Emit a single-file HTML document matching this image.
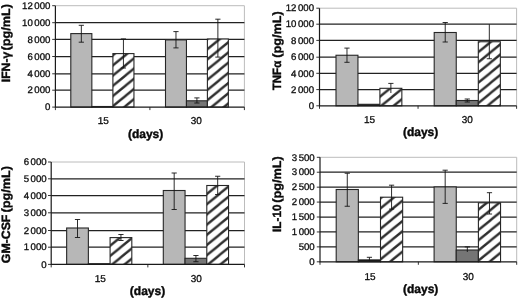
<!DOCTYPE html>
<html><head><meta charset="utf-8"><title>Cytokine charts</title>
<style>
html,body{margin:0;padding:0;background:#fff;}
body{width:520px;height:300px;overflow:hidden;}
svg{display:block;text-rendering:geometricPrecision;font-family:"Liberation Sans",Arial,sans-serif;}
.yl{font-size:9.65px;fill:#0c0c0c;stroke:#0c0c0c;stroke-width:0.3px;}
.xl{font-size:10px;fill:#0c0c0c;stroke:#0c0c0c;stroke-width:0.3px;}
.ti{font-size:12px;font-weight:bold;fill:#0a0a0a;stroke:#0a0a0a;stroke-width:0.4px;}
</style></head><body>
<svg width="520" height="300" viewBox="0 0 520 300">
<defs>
<pattern id="h10" patternUnits="userSpaceOnUse" width="12.44" height="10.2" patternTransform="translate(113.4 65)"><rect width="12.44" height="10.2" fill="#fff"/><path d="M-12.44 20.4L24.88 -10.2M-12.44 10.2L12.44 -10.2M0 20.4L24.88 0" stroke="#2e2e2e" stroke-width="2.35" fill="none"/></pattern>
<pattern id="h11" patternUnits="userSpaceOnUse" width="12.44" height="10.2" patternTransform="translate(206.9 49.6)"><rect width="12.44" height="10.2" fill="#fff"/><path d="M-12.44 20.4L24.88 -10.2M-12.44 10.2L12.44 -10.2M0 20.4L24.88 0" stroke="#2e2e2e" stroke-width="2.35" fill="none"/></pattern>
<pattern id="h20" patternUnits="userSpaceOnUse" width="12.44" height="10.2" patternTransform="translate(392.1 96.95)"><rect width="12.44" height="10.2" fill="#fff"/><path d="M-12.44 20.4L24.88 -10.2M-12.44 10.2L12.44 -10.2M0 20.4L24.88 0" stroke="#2e2e2e" stroke-width="2.35" fill="none"/></pattern>
<pattern id="h21" patternUnits="userSpaceOnUse" width="12.44" height="10.2" patternTransform="translate(478 52.4)"><rect width="12.44" height="10.2" fill="#fff"/><path d="M-12.44 20.4L24.88 -10.2M-12.44 10.2L12.44 -10.2M0 20.4L24.88 0" stroke="#2e2e2e" stroke-width="2.35" fill="none"/></pattern>
<pattern id="h30" patternUnits="userSpaceOnUse" width="12.44" height="10.2" patternTransform="translate(120.3 247.6)"><rect width="12.44" height="10.2" fill="#fff"/><path d="M-12.44 20.4L24.88 -10.2M-12.44 10.2L12.44 -10.2M0 20.4L24.88 0" stroke="#2e2e2e" stroke-width="2.35" fill="none"/></pattern>
<pattern id="h31" patternUnits="userSpaceOnUse" width="12.44" height="10.2" patternTransform="translate(206.9 194)"><rect width="12.44" height="10.2" fill="#fff"/><path d="M-12.44 20.4L24.88 -10.2M-12.44 10.2L12.44 -10.2M0 20.4L24.88 0" stroke="#2e2e2e" stroke-width="2.35" fill="none"/></pattern>
<pattern id="h40" patternUnits="userSpaceOnUse" width="12.44" height="10.2" patternTransform="translate(379.8 209)"><rect width="12.44" height="10.2" fill="#fff"/><path d="M-12.44 20.4L24.88 -10.2M-12.44 10.2L12.44 -10.2M0 20.4L24.88 0" stroke="#2e2e2e" stroke-width="2.35" fill="none"/></pattern>
<pattern id="h41" patternUnits="userSpaceOnUse" width="12.44" height="10.2" patternTransform="translate(478.3 209.8)"><rect width="12.44" height="10.2" fill="#fff"/><path d="M-12.44 20.4L24.88 -10.2M-12.44 10.2L12.44 -10.2M0 20.4L24.88 0" stroke="#2e2e2e" stroke-width="2.35" fill="none"/></pattern>
</defs>
<rect width="520" height="300" fill="#fff"/>
<rect x="55.4" y="5.7" width="189" height="101.4" fill="#fff"/>
<path d="M55.4 5.7H244.4V107.1" fill="none" stroke="#bcbcbc" stroke-width="1"/>
<line x1="55.4" y1="22.7" x2="244.4" y2="22.7" stroke="#222222" stroke-width="1.25"/>
<line x1="55.4" y1="39.4" x2="244.4" y2="39.4" stroke="#222222" stroke-width="1.25"/>
<line x1="55.4" y1="56.5" x2="244.4" y2="56.5" stroke="#222222" stroke-width="1.25"/>
<line x1="55.4" y1="73.8" x2="244.4" y2="73.8" stroke="#222222" stroke-width="1.25"/>
<line x1="55.4" y1="90.2" x2="244.4" y2="90.2" stroke="#222222" stroke-width="1.25"/>
<rect x="70.8" y="33.6" width="21.05" height="73.5" fill="#b7b7b7" stroke="#262626" stroke-width="1.1"/>
<path d="M81.33 25.3V42.2M78.73 25.3H83.92M78.73 42.2H83.92" fill="none" stroke="#151515" stroke-width="0.9"/>
<rect x="91.85" y="106.5" width="21.05" height="0.6" fill="#111" stroke="#262626" stroke-width="1.1"/>
<rect x="112.9" y="53.6" width="21.05" height="53.5" fill="url(#h10)" stroke="#262626" stroke-width="1.1"/>
<path d="M123.43 38.9V68M120.83 38.9H126.03M120.83 68H126.03" fill="none" stroke="#151515" stroke-width="0.9"/>
<rect x="165.5" y="39.9" width="20.95" height="67.2" fill="#b7b7b7" stroke="#262626" stroke-width="1.1"/>
<path d="M175.97 31.6V47.9M173.38 31.6H178.57M173.38 47.9H178.57" fill="none" stroke="#151515" stroke-width="0.9"/>
<rect x="186.45" y="100.8" width="20.95" height="6.3" fill="#757575" stroke="#262626" stroke-width="1.1"/>
<path d="M196.92 97.9V103M194.32 97.9H199.52M194.32 103H199.52" fill="none" stroke="#151515" stroke-width="0.9"/>
<rect x="207.4" y="39" width="20.95" height="68.1" fill="url(#h11)" stroke="#262626" stroke-width="1.1"/>
<path d="M217.88 19.2V57.1M215.28 19.2H220.47M215.28 57.1H220.47" fill="none" stroke="#151515" stroke-width="0.9"/>
<path d="M55.4 5.7V107.1H244.4" fill="none" stroke="#1a1a1a" stroke-width="1.2"/>
<line x1="52.2" y1="5.7" x2="55.4" y2="5.7" stroke="#1e1e1e" stroke-width="0.9"/>
<text class="yl" x="50.4" y="8.9" text-anchor="end">12<tspan dx="1.5">000</tspan></text>
<line x1="52.2" y1="22.7" x2="55.4" y2="22.7" stroke="#1e1e1e" stroke-width="0.9"/>
<text class="yl" x="50.4" y="25.9" text-anchor="end">10<tspan dx="1.5">000</tspan></text>
<line x1="52.2" y1="39.4" x2="55.4" y2="39.4" stroke="#1e1e1e" stroke-width="0.9"/>
<text class="yl" x="50.4" y="42.6" text-anchor="end">8<tspan dx="1.5">000</tspan></text>
<line x1="52.2" y1="56.5" x2="55.4" y2="56.5" stroke="#1e1e1e" stroke-width="0.9"/>
<text class="yl" x="50.4" y="59.7" text-anchor="end">6<tspan dx="1.5">000</tspan></text>
<line x1="52.2" y1="73.8" x2="55.4" y2="73.8" stroke="#1e1e1e" stroke-width="0.9"/>
<text class="yl" x="50.4" y="77" text-anchor="end">4<tspan dx="1.5">000</tspan></text>
<line x1="52.2" y1="90.2" x2="55.4" y2="90.2" stroke="#1e1e1e" stroke-width="0.9"/>
<text class="yl" x="50.4" y="93.4" text-anchor="end">2<tspan dx="1.5">000</tspan></text>
<line x1="52.2" y1="107.1" x2="55.4" y2="107.1" stroke="#1e1e1e" stroke-width="0.9"/>
<text class="yl" x="50.4" y="110.3" text-anchor="end">0</text>
<line x1="55.4" y1="107.1" x2="55.4" y2="110.1" stroke="#1e1e1e" stroke-width="0.9"/>
<line x1="149.9" y1="107.1" x2="149.9" y2="110.1" stroke="#1e1e1e" stroke-width="0.9"/>
<line x1="244.4" y1="107.1" x2="244.4" y2="110.1" stroke="#1e1e1e" stroke-width="0.9"/>
<text class="xl" x="103.3" y="123.9" text-anchor="middle">15</text>
<text class="xl" x="196.3" y="123.9" text-anchor="middle">30</text>
<text class="ti" x="145.6" y="137.7" text-anchor="middle">(days)</text>
<text class="ti" transform="translate(9.8 82.2) rotate(-90)" text-anchor="start" textLength="30.4" lengthAdjust="spacingAndGlyphs">IFN-γ</text>
<text class="ti" transform="translate(9.8 4) rotate(-90)" text-anchor="end" textLength="46.4" lengthAdjust="spacingAndGlyphs">(pg/mL)</text>
<rect x="319.5" y="8.2" width="197.1" height="97.6" fill="#fff"/>
<path d="M319.5 8.2H516.6V105.8" fill="none" stroke="#bcbcbc" stroke-width="1"/>
<line x1="319.5" y1="24.2" x2="516.6" y2="24.2" stroke="#222222" stroke-width="1.25"/>
<line x1="319.5" y1="40.4" x2="516.6" y2="40.4" stroke="#222222" stroke-width="1.25"/>
<line x1="319.5" y1="57.2" x2="516.6" y2="57.2" stroke="#222222" stroke-width="1.25"/>
<line x1="319.5" y1="73.3" x2="516.6" y2="73.3" stroke="#222222" stroke-width="1.25"/>
<line x1="319.5" y1="89.6" x2="516.6" y2="89.6" stroke="#222222" stroke-width="1.25"/>
<rect x="336" y="55.25" width="21.95" height="50.55" fill="#b7b7b7" stroke="#262626" stroke-width="1.1"/>
<path d="M346.98 48.1V62.3M344.38 48.1H349.58M344.38 62.3H349.58" fill="none" stroke="#151515" stroke-width="0.9"/>
<rect x="357.95" y="104.3" width="21.95" height="1.5" fill="#111" stroke="#262626" stroke-width="1.1"/>
<rect x="379.9" y="88.3" width="21.95" height="17.5" fill="url(#h20)" stroke="#262626" stroke-width="1.1"/>
<path d="M390.88 83.4V93M388.27 83.4H393.48" fill="none" stroke="#151515" stroke-width="0.9"/>
<rect x="434.2" y="32.5" width="22.05" height="73.3" fill="#b7b7b7" stroke="#262626" stroke-width="1.1"/>
<path d="M445.22 22.5V42M442.62 22.5H447.82M442.62 42H447.82" fill="none" stroke="#151515" stroke-width="0.9"/>
<rect x="456.25" y="100.5" width="22.05" height="5.3" fill="#757575" stroke="#262626" stroke-width="1.1"/>
<path d="M467.27 99V102M464.67 99H469.88M464.67 102H469.88" fill="none" stroke="#151515" stroke-width="0.9"/>
<rect x="478.3" y="41.75" width="22.05" height="64.05" fill="url(#h21)" stroke="#262626" stroke-width="1.1"/>
<path d="M489.32 24.25V58.75M486.72 58.75H491.93" fill="none" stroke="#151515" stroke-width="0.9"/>
<path d="M319.5 8.2V105.8H516.6" fill="none" stroke="#1a1a1a" stroke-width="1.2"/>
<line x1="316.3" y1="8.2" x2="319.5" y2="8.2" stroke="#1e1e1e" stroke-width="0.9"/>
<text class="yl" x="314" y="11.4" text-anchor="end">12<tspan dx="1.5">000</tspan></text>
<line x1="316.3" y1="24.2" x2="319.5" y2="24.2" stroke="#1e1e1e" stroke-width="0.9"/>
<text class="yl" x="314" y="27.4" text-anchor="end">10<tspan dx="1.5">000</tspan></text>
<line x1="316.3" y1="40.4" x2="319.5" y2="40.4" stroke="#1e1e1e" stroke-width="0.9"/>
<text class="yl" x="314" y="43.6" text-anchor="end">8<tspan dx="1.5">000</tspan></text>
<line x1="316.3" y1="57.2" x2="319.5" y2="57.2" stroke="#1e1e1e" stroke-width="0.9"/>
<text class="yl" x="314" y="60.4" text-anchor="end">6<tspan dx="1.5">000</tspan></text>
<line x1="316.3" y1="73.3" x2="319.5" y2="73.3" stroke="#1e1e1e" stroke-width="0.9"/>
<text class="yl" x="314" y="76.5" text-anchor="end">4<tspan dx="1.5">000</tspan></text>
<line x1="316.3" y1="89.6" x2="319.5" y2="89.6" stroke="#1e1e1e" stroke-width="0.9"/>
<text class="yl" x="314" y="92.8" text-anchor="end">2<tspan dx="1.5">000</tspan></text>
<line x1="316.3" y1="105.8" x2="319.5" y2="105.8" stroke="#1e1e1e" stroke-width="0.9"/>
<text class="yl" x="314" y="109" text-anchor="end">0</text>
<line x1="319.5" y1="105.8" x2="319.5" y2="108.8" stroke="#1e1e1e" stroke-width="0.9"/>
<line x1="418.05" y1="105.8" x2="418.05" y2="108.8" stroke="#1e1e1e" stroke-width="0.9"/>
<line x1="516.6" y1="105.8" x2="516.6" y2="108.8" stroke="#1e1e1e" stroke-width="0.9"/>
<text class="xl" x="369.6" y="122.6" text-anchor="middle">15</text>
<text class="xl" x="467.3" y="122.6" text-anchor="middle">30</text>
<text class="ti" x="420.6" y="135.7" text-anchor="middle">(days)</text>
<text class="ti" transform="translate(281.1 90.2) rotate(-90)" text-anchor="start" textLength="29.4" lengthAdjust="spacingAndGlyphs">TNFα</text>
<text class="ti" transform="translate(281.1 11.3) rotate(-90)" text-anchor="end" textLength="46.4" lengthAdjust="spacingAndGlyphs">(pg/mL)</text>
<rect x="51.2" y="162" width="193.3" height="102.4" fill="#fff"/>
<path d="M51.2 162H244.5V264.4" fill="none" stroke="#bcbcbc" stroke-width="1"/>
<line x1="51.2" y1="178.8" x2="244.5" y2="178.8" stroke="#222222" stroke-width="1.25"/>
<line x1="51.2" y1="195.5" x2="244.5" y2="195.5" stroke="#222222" stroke-width="1.25"/>
<line x1="51.2" y1="212.8" x2="244.5" y2="212.8" stroke="#222222" stroke-width="1.25"/>
<line x1="51.2" y1="230.5" x2="244.5" y2="230.5" stroke="#222222" stroke-width="1.25"/>
<line x1="51.2" y1="247.2" x2="244.5" y2="247.2" stroke="#222222" stroke-width="1.25"/>
<rect x="66.65" y="228" width="21.72" height="36.4" fill="#b7b7b7" stroke="#262626" stroke-width="1.1"/>
<path d="M77.51 219.5V237.5M74.91 219.5H80.11M74.91 237.5H80.11" fill="none" stroke="#151515" stroke-width="0.9"/>
<rect x="88.37" y="263.7" width="21.72" height="0.7" fill="#111" stroke="#262626" stroke-width="1.1"/>
<rect x="110.09" y="237.6" width="21.72" height="26.8" fill="url(#h30)" stroke="#262626" stroke-width="1.1"/>
<path d="M120.95 234.5V240.5M118.35 234.5H123.55M118.35 240.5H123.55" fill="none" stroke="#151515" stroke-width="0.9"/>
<rect x="163.3" y="190.5" width="21.75" height="73.9" fill="#b7b7b7" stroke="#262626" stroke-width="1.1"/>
<path d="M174.18 173V209.5M171.58 173H176.78M171.58 209.5H176.78" fill="none" stroke="#151515" stroke-width="0.9"/>
<rect x="185.05" y="258.3" width="21.75" height="6.1" fill="#757575" stroke="#262626" stroke-width="1.1"/>
<path d="M195.93 255.5V261.7M193.33 255.5H198.53M193.33 261.7H198.53" fill="none" stroke="#151515" stroke-width="0.9"/>
<rect x="206.8" y="185.5" width="21.75" height="78.9" fill="url(#h31)" stroke="#262626" stroke-width="1.1"/>
<path d="M217.68 176.25V194.5M215.08 176.25H220.28M215.08 194.5H220.28" fill="none" stroke="#151515" stroke-width="0.9"/>
<path d="M51.2 162V264.4H244.5" fill="none" stroke="#1a1a1a" stroke-width="1.2"/>
<line x1="48" y1="162" x2="51.2" y2="162" stroke="#1e1e1e" stroke-width="0.9"/>
<text class="yl" x="46.6" y="165.2" text-anchor="end">6<tspan dx="1.5">000</tspan></text>
<line x1="48" y1="178.8" x2="51.2" y2="178.8" stroke="#1e1e1e" stroke-width="0.9"/>
<text class="yl" x="46.6" y="182" text-anchor="end">5<tspan dx="1.5">000</tspan></text>
<line x1="48" y1="195.5" x2="51.2" y2="195.5" stroke="#1e1e1e" stroke-width="0.9"/>
<text class="yl" x="46.6" y="198.7" text-anchor="end">4<tspan dx="1.5">000</tspan></text>
<line x1="48" y1="212.8" x2="51.2" y2="212.8" stroke="#1e1e1e" stroke-width="0.9"/>
<text class="yl" x="46.6" y="216" text-anchor="end">3<tspan dx="1.5">000</tspan></text>
<line x1="48" y1="230.5" x2="51.2" y2="230.5" stroke="#1e1e1e" stroke-width="0.9"/>
<text class="yl" x="46.6" y="233.7" text-anchor="end">2<tspan dx="1.5">000</tspan></text>
<line x1="48" y1="247.2" x2="51.2" y2="247.2" stroke="#1e1e1e" stroke-width="0.9"/>
<text class="yl" x="46.6" y="250.4" text-anchor="end">1<tspan dx="1.5">000</tspan></text>
<line x1="48" y1="264.4" x2="51.2" y2="264.4" stroke="#1e1e1e" stroke-width="0.9"/>
<text class="yl" x="46.6" y="267.6" text-anchor="end">0</text>
<line x1="51.2" y1="264.4" x2="51.2" y2="267.4" stroke="#1e1e1e" stroke-width="0.9"/>
<line x1="147.85" y1="264.4" x2="147.85" y2="267.4" stroke="#1e1e1e" stroke-width="0.9"/>
<line x1="244.5" y1="264.4" x2="244.5" y2="267.4" stroke="#1e1e1e" stroke-width="0.9"/>
<text class="xl" x="100.2" y="281.6" text-anchor="middle">15</text>
<text class="xl" x="196.3" y="281.6" text-anchor="middle">30</text>
<text class="ti" x="147.5" y="295.4" text-anchor="middle">(days)</text>
<text class="ti" transform="translate(9.9 263.2) rotate(-90)" text-anchor="start" textLength="48.6" lengthAdjust="spacingAndGlyphs">GM-CSF</text>
<text class="ti" transform="translate(9.9 166) rotate(-90)" text-anchor="end" textLength="46.4" lengthAdjust="spacingAndGlyphs">(pg/mL)</text>
<rect x="320" y="157.3" width="196.7" height="104.5" fill="#fff"/>
<path d="M320 157.3H516.7V261.8" fill="none" stroke="#bcbcbc" stroke-width="1"/>
<line x1="320" y1="172.23" x2="516.7" y2="172.23" stroke="#222222" stroke-width="1.25"/>
<line x1="320" y1="187.16" x2="516.7" y2="187.16" stroke="#222222" stroke-width="1.25"/>
<line x1="320" y1="202.09" x2="516.7" y2="202.09" stroke="#222222" stroke-width="1.25"/>
<line x1="320" y1="217.01" x2="516.7" y2="217.01" stroke="#222222" stroke-width="1.25"/>
<line x1="320" y1="231.94" x2="516.7" y2="231.94" stroke="#222222" stroke-width="1.25"/>
<line x1="320" y1="246.87" x2="516.7" y2="246.87" stroke="#222222" stroke-width="1.25"/>
<rect x="336.2" y="189.5" width="22.15" height="72.3" fill="#b7b7b7" stroke="#262626" stroke-width="1.1"/>
<path d="M347.27 173.25V206.25M344.67 173.25H349.88M344.67 206.25H349.88" fill="none" stroke="#151515" stroke-width="0.9"/>
<rect x="358.35" y="259.9" width="22.15" height="1.9" fill="#111" stroke="#262626" stroke-width="1.1"/>
<path d="M369.42 257.3V261.5M366.82 257.3H372.02" fill="none" stroke="#151515" stroke-width="0.9"/>
<rect x="380.5" y="197.2" width="22.15" height="64.6" fill="url(#h40)" stroke="#262626" stroke-width="1.1"/>
<path d="M391.57 185.2V209.1M388.97 185.2H394.18M388.97 209.1H394.18" fill="none" stroke="#151515" stroke-width="0.9"/>
<rect x="434.1" y="186.9" width="22.15" height="74.9" fill="#b7b7b7" stroke="#262626" stroke-width="1.1"/>
<path d="M445.18 170.2V203.4M442.57 170.2H447.78M442.57 203.4H447.78" fill="none" stroke="#151515" stroke-width="0.9"/>
<rect x="456.25" y="250" width="22.15" height="11.8" fill="#757575" stroke="#262626" stroke-width="1.1"/>
<path d="M467.32 246.9V252M464.72 246.9H469.93" fill="none" stroke="#151515" stroke-width="0.9"/>
<rect x="478.4" y="202.8" width="22.15" height="59" fill="url(#h41)" stroke="#262626" stroke-width="1.1"/>
<path d="M489.48 192.7V214M486.88 192.7H492.08M486.88 214H492.08" fill="none" stroke="#151515" stroke-width="0.9"/>
<path d="M320 157.3V261.8H516.7" fill="none" stroke="#1a1a1a" stroke-width="1.2"/>
<line x1="316.8" y1="157.3" x2="320" y2="157.3" stroke="#1e1e1e" stroke-width="0.9"/>
<text class="yl" x="314.7" y="160.5" text-anchor="end">3<tspan dx="1.5">500</tspan></text>
<line x1="316.8" y1="172.23" x2="320" y2="172.23" stroke="#1e1e1e" stroke-width="0.9"/>
<text class="yl" x="314.7" y="175.43" text-anchor="end">3<tspan dx="1.5">000</tspan></text>
<line x1="316.8" y1="187.16" x2="320" y2="187.16" stroke="#1e1e1e" stroke-width="0.9"/>
<text class="yl" x="314.7" y="190.36" text-anchor="end">2<tspan dx="1.5">500</tspan></text>
<line x1="316.8" y1="202.09" x2="320" y2="202.09" stroke="#1e1e1e" stroke-width="0.9"/>
<text class="yl" x="314.7" y="205.29" text-anchor="end">2<tspan dx="1.5">000</tspan></text>
<line x1="316.8" y1="217.01" x2="320" y2="217.01" stroke="#1e1e1e" stroke-width="0.9"/>
<text class="yl" x="314.7" y="220.21" text-anchor="end">1<tspan dx="1.5">500</tspan></text>
<line x1="316.8" y1="231.94" x2="320" y2="231.94" stroke="#1e1e1e" stroke-width="0.9"/>
<text class="yl" x="314.7" y="235.14" text-anchor="end">1<tspan dx="1.5">000</tspan></text>
<line x1="316.8" y1="246.87" x2="320" y2="246.87" stroke="#1e1e1e" stroke-width="0.9"/>
<text class="yl" x="314.7" y="250.07" text-anchor="end">500</text>
<line x1="316.8" y1="261.8" x2="320" y2="261.8" stroke="#1e1e1e" stroke-width="0.9"/>
<text class="yl" x="314.7" y="265" text-anchor="end">0</text>
<line x1="320" y1="261.8" x2="320" y2="264.8" stroke="#1e1e1e" stroke-width="0.9"/>
<line x1="418.35" y1="261.8" x2="418.35" y2="264.8" stroke="#1e1e1e" stroke-width="0.9"/>
<line x1="516.7" y1="261.8" x2="516.7" y2="264.8" stroke="#1e1e1e" stroke-width="0.9"/>
<text class="xl" x="370" y="279.6" text-anchor="middle">15</text>
<text class="xl" x="468.3" y="279.6" text-anchor="middle">30</text>
<text class="ti" x="420.7" y="293.2" text-anchor="middle">(days)</text>
<text class="ti" transform="translate(281.1 231.9) rotate(-90)" text-anchor="start" textLength="27.3" lengthAdjust="spacingAndGlyphs">IL-10</text>
<text class="ti" transform="translate(281.1 156.3) rotate(-90)" text-anchor="end" textLength="46.4" lengthAdjust="spacingAndGlyphs">(pg/mL)</text>
</svg>
</body></html>
